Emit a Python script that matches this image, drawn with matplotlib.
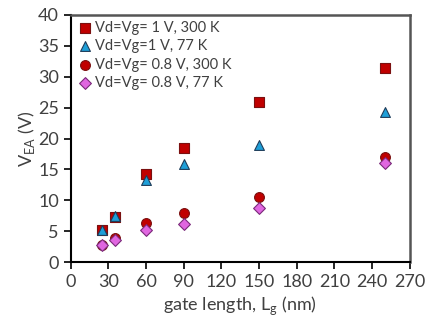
import matplotlib
matplotlib.use("Agg")
import matplotlib.pyplot as plt

plt.rcParams['font.family'] = ['Lato', 'DejaVu Sans']

# Data
lg = [25, 35, 60, 90, 150, 250]
vea_1v_300k = [5.2, 7.3, 14.3, 18.5, 25.9, 31.4]
vea_1v_77k = [5.2, 7.5, 13.3, 15.9, 18.9, 24.3]
vea_08v_300k = [2.8, 3.9, 6.3, 8.0, 10.6, 17.0]
vea_08v_77k = [2.7, 3.5, 5.2, 6.2, 8.8, 16.0]

labels = ['Vd=Vg= 1 V, 300 K', 'Vd=Vg=1 V, 77 K',
          'Vd=Vg= 0.8 V, 300 K', 'Vd=Vg= 0.8 V, 77 K']
xticks = list(range(0, 271, 30))
yticks = list(range(0, 41, 5))

txt = '#404040'

fig = plt.figure(figsize=(4.26, 3.26), dpi=100)
ax = fig.add_axes([0.166, 0.196, 0.796, 0.758])

ax.scatter(lg, vea_1v_300k, marker='s', s=50, c='#C00000', edgecolors='#7A1010',
           linewidths=0.8, label=labels[0], zorder=3)
ax.scatter(lg, vea_1v_77k, marker='^', s=50, c='#1E9FD8', edgecolors='#1F3D5A',
           linewidths=0.8, label=labels[1], zorder=4)
ax.scatter(lg, vea_08v_300k, marker='o', s=50, c='#C00000', edgecolors='#7A1010',
           linewidths=0.8, label=labels[2], zorder=3)
ax.scatter(lg, vea_08v_77k, marker='D', s=36, c='#E066E0', edgecolors='#7A2A7A',
           linewidths=0.8, label=labels[3], zorder=4)

ax.set_xlim(0, 270)
ax.set_ylim(0, 40)
ax.set_xticks(xticks)
ax.set_yticks(yticks)
ax.tick_params(direction='out', length=5, width=1.2, colors='black',
               labelcolor=txt, labelsize=13)
for side in ['left', 'bottom']:
    ax.spines[side].set_linewidth(1.5)
    ax.spines[side].set_color('black')
for side in ['top', 'right']:
    ax.spines[side].set_linewidth(1.8)
    ax.spines[side].set_color('#555555')

ax.set_xlabel('gate length, L$_{\\mathregular{g}}$ (nm)', fontsize=13, color=txt, labelpad=3)
ax.set_ylabel('V$_{\\mathregular{EA}}$ (V)', fontsize=13, color=txt, labelpad=1)

leg = ax.legend(loc='upper left', frameon=False, fontsize=10.5, handletextpad=0.05,
                borderaxespad=0.1, labelspacing=0.3, handlelength=1.2,
                borderpad=0.3, scatterpoints=1)
for t in leg.get_texts():
    t.set_color(txt)

fig.savefig('out.png', dpi=100)
